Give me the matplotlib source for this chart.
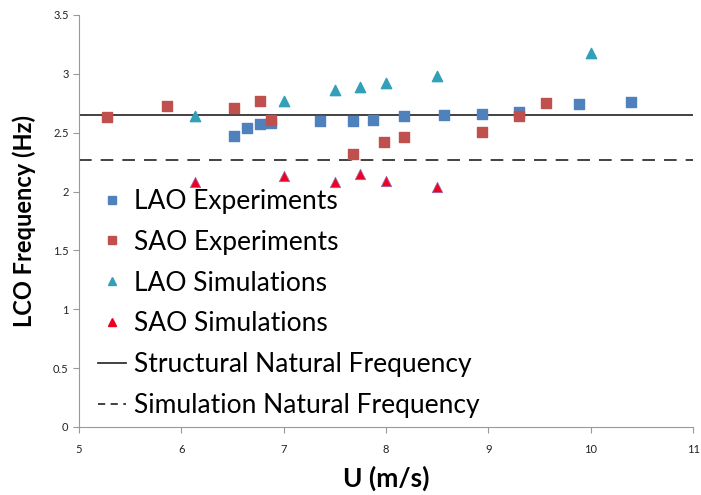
import matplotlib

matplotlib.use("Agg")

import matplotlib.pyplot as plt
from matplotlib.lines import Line2D

# LAO experiments (blue squares)
lao_exp_u = [6.51, 6.64, 6.77, 6.88, 7.35, 7.68, 7.87, 8.18, 8.57, 8.94, 9.30, 9.89, 10.39]
lao_exp_f = [2.47, 2.54, 2.57, 2.58, 2.60, 2.60, 2.61, 2.64, 2.65, 2.66, 2.68, 2.74, 2.76]

# SAO experiments (red squares)
sao_exp_u = [5.27, 5.86, 6.51, 6.77, 6.88, 7.68, 7.98, 8.18, 8.94, 9.30, 9.56]
sao_exp_f = [2.63, 2.73, 2.71, 2.77, 2.61, 2.32, 2.42, 2.46, 2.51, 2.64, 2.75]

# LAO simulations (teal triangles)
lao_sim_u = [6.13, 7.0, 7.5, 7.75, 8.0, 8.5, 10.0]
lao_sim_f = [2.64, 2.77, 2.86, 2.89, 2.92, 2.98, 3.18]

# SAO simulations (red triangles)
sao_sim_u = [6.13, 7.0, 7.5, 7.75, 8.0, 8.5]
sao_sim_f = [2.08, 2.13, 2.08, 2.15, 2.09, 2.04]

structural_freq = 2.65
simulation_freq = 2.27

plt.rcParams["font.family"] = ["Lato", "DejaVu Sans"]

fig = plt.figure(figsize=(7.01, 4.95), dpi=100)
ax = fig.add_axes([0.1127, 0.1374, 0.876, 0.8323])

ax.axhline(structural_freq, color="#333333", lw=1.3, zorder=1)
ax.axhline(simulation_freq, color="#333333", lw=1.3, ls=(0, (7, 5)), zorder=1)

ax.scatter(lao_exp_u, lao_exp_f, marker="s", s=60, color="#4F81BD", zorder=3)
ax.scatter(sao_exp_u, sao_exp_f, marker="s", s=60, color="#C0504D", zorder=3)
ax.scatter(lao_sim_u, lao_sim_f, marker="^", s=55, color="#31A0B8", zorder=3)
ax.scatter(sao_sim_u, sao_sim_f, marker="^", s=55, color="#F00020",
           edgecolor="#9966AA", linewidth=0.6, zorder=3)

ax.set_xlim(5, 11)
ax.set_ylim(0, 3.5)
ax.set_xticks(range(5, 12))
ax.set_yticks([0, 0.5, 1, 1.5, 2, 2.5, 3, 3.5])
ax.set_yticklabels(["0", "0.5", "1", "1.5", "2", "2.5", "3", "3.5"])

for s in ["top", "right"]:
    ax.spines[s].set_visible(False)
for s in ["left", "bottom"]:
    ax.spines[s].set_color("#999999")
ax.tick_params(colors="#999999", labelcolor="#222222", labelsize=8, length=4)
ax.tick_params(axis="x", pad=8)

ax.set_xlabel("U (m/s)", fontsize=19, fontweight="bold", labelpad=8)
ax.set_ylabel("LCO Frequency (Hz)", fontsize=17, fontweight="bold", labelpad=12)

handles = [
    Line2D([], [], marker="s", ls="", color="#4F81BD", markersize=6),
    Line2D([], [], marker="s", ls="", color="#C0504D", markersize=6),
    Line2D([], [], marker="^", ls="", color="#31A0B8", markersize=6),
    Line2D([], [], marker="^", ls="", color="#F00020", markersize=6),
    Line2D([], [], color="#333333", lw=1.3),
    Line2D([], [], color="#333333", lw=1.3, ls=(0, (4, 3))),
]
labels = [
    "LAO Experiments",
    "SAO Experiments",
    "LAO Simulations",
    "SAO Simulations",
    "Structural Natural Frequency",
    "Simulation Natural Frequency",
]
ax.legend(handles, labels, loc="upper left", bbox_to_anchor=(0.01, 0.61),
          frameon=False, fontsize=19, handlelength=1.05, handletextpad=0.3,
          labelspacing=0.6, borderpad=0)

fig.savefig("out.png", dpi=100)
